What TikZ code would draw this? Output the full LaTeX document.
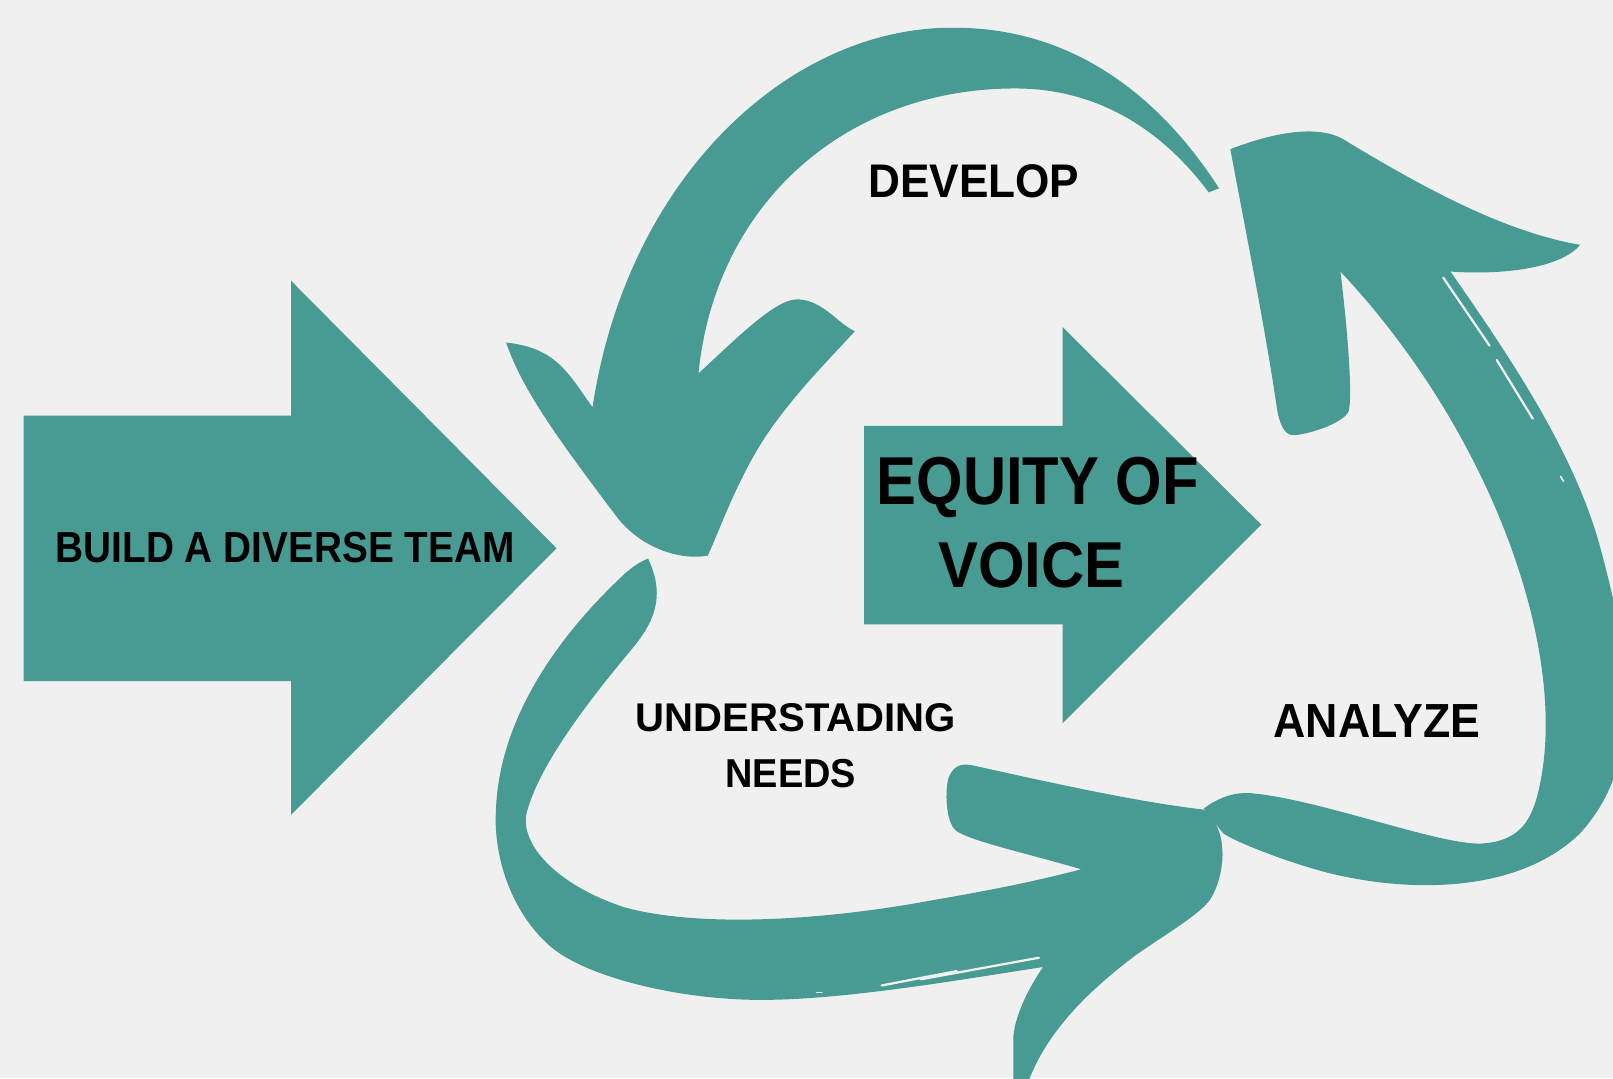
\documentclass[tikz,border=0pt]{standalone}
\usepackage{fontspec}
\setmainfont{Liberation Sans}
\usepackage{graphicx}
\definecolor{brushteal}{RGB}{72,155,146}
\definecolor{paper}{RGB}{240,240,240}
% label set into an exact box: width, cap height, text
\newcommand{\fitlabel}[3]{\resizebox{#1pt}{#2pt}{#3}}
\begin{document}
\begin{tikzpicture}[x=1pt,y=-1pt,
  brush/.style={fill=brushteal},
  caption/.style={anchor=base west,inner sep=0pt,font=\bfseries},
  streak/.style={draw=paper,line width=2.2pt,line cap=round}]
\useasboundingbox (0,0) rectangle (1568,1048);
\clip (0,0) rectangle (1568,1048);
\fill[paper] (0,0) rectangle (1568,1048);

% left block arrow
\fill[brush] (23,404) -- (283,404) -- (283,273) -- (541,533) -- (283,792) -- (283,662) -- (23,662) -- cycle;

% central block arrow
\fill[brush] (840,414) -- (1033,414) -- (1033,318) -- (1226,510) -- (1033,703) -- (1033,607) -- (840,607) -- cycle;

% upper curved brush arrow (develop)
\fill[brush] (1185,183)
  .. controls (1125,90) and (1040,27) .. (928,27)
  .. controls (770,25) and (610,170) .. (576,396)
  .. controls (552,362) and (540,338) .. (492,333)
  .. controls (508,380) and (545,430) .. (600,503)
  .. controls (625,535) and (665,545) .. (688,540)
  .. controls (700,515) and (720,455) .. (755,409)
  .. controls (780,375) and (810,345) .. (831,322)
  .. controls (815,315) and (800,292) .. (776,291)
  .. controls (755,290) and (720,325) .. (679,363)
  .. controls (695,200) and (820,86) .. (987,86)
  .. controls (1080,86) and (1140,140) .. (1175,187)
  -- cycle;

% lower curved brush arrow (understanding needs)
\fill[brush] (630,543)
  .. controls (645,575) and (640,600) .. (615,630)
  .. controls (580,672) and (525,740) .. (512,790)
  .. controls (505,820) and (540,860) .. (607,882)
  .. controls (680,902) and (800,895) .. (907,875)
  .. controls (960,866) and (1010,856) .. (1051,845)
  .. controls (1000,830) and (945,818) .. (930,808)
  .. controls (918,800) and (918,760) .. (924,752)
  .. controls (930,742) and (938,742) .. (950,745)
  .. controls (1040,765) and (1110,780) .. (1170,787)
  .. controls (1195,805) and (1192,850) .. (1176,875)
  .. controls (1165,890) and (1130,910) .. (1102,930)
  .. controls (1060,962) and (1020,1000) .. (1001,1048)
  -- (996,1060) -- (985,1060) -- (985,1011)
  .. controls (985,990) and (1000,960) .. (1014,940)
  .. controls (930,953) and (820,972) .. (740,972)
  .. controls (660,972) and (570,950) .. (535,920)
  .. controls (495,885) and (480,830) .. (482,790)
  .. controls (484,710) and (530,630) .. (607,558)
  .. controls (615,551) and (622,546) .. (630,543)
  -- cycle;

% right curved brush arrow (analyze)
\fill[brush] (1170,786)
  .. controls (1185,775) and (1200,770) .. (1215,771)
  .. controls (1280,776) and (1400,822) .. (1440,820)
  .. controls (1475,818) and (1487,800) .. (1494,775)
  .. controls (1530,640) and (1450,420) .. (1303,264)
  .. controls (1310,320) and (1315,385) .. (1311,400)
  .. controls (1305,412) and (1270,423) .. (1257,423)
  .. controls (1248,423) and (1243,410) .. (1241,395)
  .. controls (1230,320) and (1210,220) .. (1196,145)
  .. controls (1240,128) and (1285,120) .. (1310,138)
  .. controls (1380,180) and (1460,225) .. (1536,238)
  .. controls (1520,258) and (1470,268) .. (1410,264)
  .. controls (1470,350) and (1530,440) .. (1555,530)
  .. controls (1585,640) and (1600,740) .. (1536,810)
  .. controls (1480,865) and (1380,870) .. (1293,849)
  .. controls (1250,838) and (1200,818) .. (1189,810)
  -- cycle;

% dry-brush streaks
\draw[streak] (857,958) -- (930,944);
\draw[streak] (895,952) -- (1010,931);
\draw[streak,line width=1.5pt] (794,965) -- (799,965);
\draw[streak] (1403,270) -- (1448,336);
\draw[streak] (1455,350) -- (1490,407);
\draw[streak,line width=1.5pt] (1517,463) -- (1520,468);

% labels
\node[caption] (build) at (54,547) {\fitlabel{446}{29.5}{BUILD A DIVERSE TEAM}};
\node[caption] (develop) at (844,192) {\fitlabel{205}{32}{DEVELOP}};
\node[caption] (equity) at (852,490) {\fitlabel{313}{46}{EQUITY OF}};
\node[caption] (voice) at (912,571) {\fitlabel{181}{44}{VOICE}};
\node[caption] (understand) at (618,711) {\fitlabel{311}{27.2}{UNDERSTADING}};
\node[caption] (needs) at (705,766) {\fitlabel{127}{27.4}{NEEDS}};
\node[caption] (analyze) at (1238,717) {\fitlabel{201}{32}{ANALYZE}};
\end{tikzpicture}
\end{document}
